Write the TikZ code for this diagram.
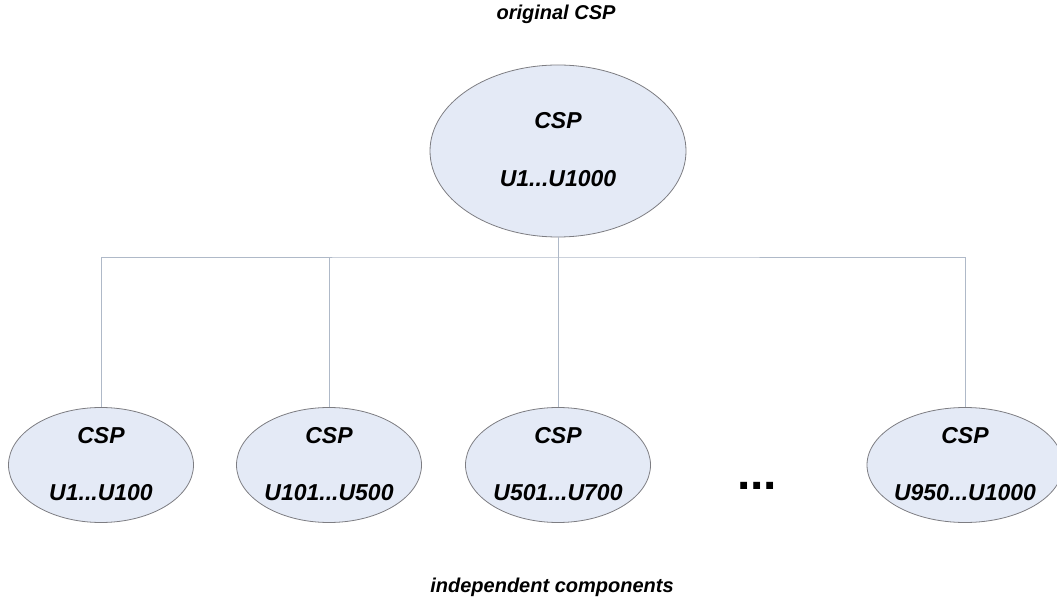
\documentclass[tikz,border=0pt]{standalone}
\usepackage{fontspec}
\setmainfont{Liberation Sans}
\usetikzlibrary{shapes.geometric}
\definecolor{ellfill}{RGB}{228,234,246}
\definecolor{ellline}{RGB}{125,125,130}
\definecolor{conline}{RGB}{175,185,200}
\tikzset{
  x=1pt,y=1pt,
  bigell/.style={ellipse, draw=ellline, fill=ellfill, line width=0.8pt, minimum width=256pt, minimum height=172pt, inner sep=0pt},
  smallell/.style={ellipse, draw=ellline, fill=ellfill, line width=0.8pt, minimum width=185pt, minimum height=115pt, inner sep=0pt},
  lbl/.style={font=\fontsize{23}{26}\selectfont\bfseries\itshape, inner sep=0pt, anchor=base},
  captext/.style={font=\fontsize{20}{24}\selectfont\bfseries\itshape, inner sep=0pt, anchor=base},
  conn/.style={draw=conline, line width=0.8pt}
}
\begin{document}
\begin{tikzpicture}
\useasboundingbox (0,0) rectangle (1057,603);
\node[captext] (title) at (556,583) {original CSP};
\node[bigell] (top) at (558,452) {};
\node[lbl] (topa) at (558,474) {CSP};
\node[lbl] (topb) at (558,416) {U1...U1000};

\coordinate (bar) at (558,346);

\node[smallell] (c1) at (101,138) {};
\node[smallell] (c2) at (329,138) {};
\node[smallell] (c3) at (558,138) {};
\node[smallell, minimum width=196pt] (c4) at (965,138) {};

\node[lbl] (c1a) at ([yshift=22pt]c1.center) {CSP};
\node[lbl] (c1b) at ([yshift=-35pt]c1.center) {U1...U100};
\node[lbl] (c2a) at ([yshift=22pt]c2.center) {CSP};
\node[lbl] (c2b) at ([yshift=-35pt]c2.center) {U101...U500};
\node[lbl] (c3a) at ([yshift=22pt]c3.center) {CSP};
\node[lbl] (c3b) at ([yshift=-35pt]c3.center) {U501...U700};
\node[lbl] (c4a) at ([yshift=22pt]c4.center) {CSP};
\node[lbl] (c4b) at ([yshift=-35pt]c4.center) {U950...U1000};

\node[font=\fontsize{48}{48}\selectfont\bfseries, inner sep=0pt] (dots) at (757,117) {...};
\node[captext] (foot) at (552,11) {independent components};

\draw[conn] (top.south) -- (bar);
\draw[conn] (c1.north) |- (bar) -| (c4.north);
\draw[conn] (c2.north) -- (c2.north |- bar);
\draw[conn] (c3.north) -- (bar);
\end{tikzpicture}
\end{document}
